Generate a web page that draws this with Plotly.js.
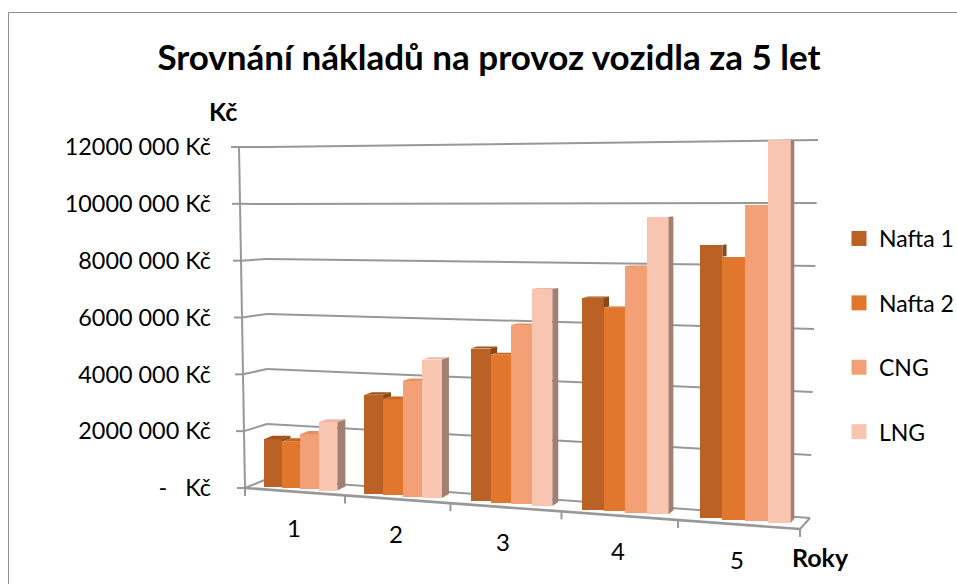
<!DOCTYPE html>
<html><head><meta charset="utf-8">
<script src="https://cdn.plot.ly/plotly-3.0.1.min.js"></script>
<style>html,body{margin:0;padding:0;background:#fff}</style></head>
<body><div id="chart" style="width:957px;height:584px"></div>
<script>
// ---- data (Kč) ----
const categories = ["1","2","3","4","5"];
const seriesNames = ["Nafta 1","Nafta 2","CNG","LNG"];
const nafta1 = [1650000,3370000,5080000,6860000,8620000];
const nafta2 = [1600000,3250000,4900000,6550000,8260000];
const cng    = [1900000,3900000,5900000,7900000,9900000];
const lng    = [2350000,4650000,7100000,9500000,11900000];
const yTicks = [0,2000000,4000000,6000000,8000000,10000000,12000000];
const yTickText = ["-\u00A0\u00A0\u00A0Kč","2000 000 Kč","4000 000 Kč","6000 000 Kč","8000 000 Kč","10000 000 Kč","12000 000 Kč"];
const frontColors = ["#BA6225","#E0772D","#F3A077","#F8C5B1"];
const sideColors  = ["#8A4814","#A8581F","#B07856","#A17F72"];
const topColors   = ["#A3531B","#C9651F","#E48F64","#EDB9A5"];

// ---- layout frame: x axis is in px units, y axis in Kč ----
const L=212,R=830,T=130,B=540, Y0=488, PXM=341/12; // px per million on the left front plane
const val=py=>(Y0-py)/PXM*1e6;
const M=v=>v/1e6;
const px=(x)=>(x-L)/(R-L), py=(y)=>(B-y)/(B-T);
const xF=t=>245+97.25*t+2.75*t*t;            // floor front edge x, t = slots from left
const edgeY=x=>488+0.0739*(x-245);           // floor front edge y
const frac=x=>(x-245)/555;
const scale=x=>28.5+frac(x)*3.8;             // px per million at a bar
const lean=x=>-0.3+0.7*frac(x);              // horizontal lean per million

const lineStyle={color:"#989898",width:2};
const shapes=[];
const seg=(x0,y0,x1,y1,w)=>shapes.push({type:"line",xref:"x",yref:"y",layer:"below",x0,y0:val(y0),x1,y1:val(y1),line:{color:lineStyle.color,width:w||lineStyle.width}});
// gridlines from the value axis
yTicks.forEach(v=>{
  const m=M(v), xa=245-m*0.5, ya=488-m*PXM;
  const yl=479-m*27.5-Math.max(0,m-10), xr=810+m*0.67, yr=518-m*31.5;
  seg(xa-8,ya,xa,ya); seg(xa,ya,267,yl); seg(267,yl,xr,yr);
});
seg(245,488,239,146);                // value axis
seg(245,488,800,529,2.6);            // floor front edge
seg(800,529,810,518);                // floor right edge
categories.concat("e").forEach((c,i)=>{const x=xF(i),y=edgeY(x);seg(x,y,x,y+8);});
seg(245,488,245,496);
// chart frame
shapes.push({type:"path",xref:"paper",yref:"paper",layer:"below",
  path:`M${px(8.5)},${py(590)} L${px(8.5)},${py(12.5)} L${px(960)},${py(12.5)}`,line:{color:"#8F8F8F",width:1}});

// ---- traces ----
const values=[nafta1,nafta2,cng,lng];
const slotLo=0.155, barW=0.184;
const geom=values.map((arr,s)=>arr.map((v,c)=>{
  const xl0=xF(c+slotLo+s*barW), xr0=xF(c+slotLo+(s+1)*barW);
  const shift=4-2*frac(xl0), xl=xl0+shift, xr=xr0+shift, xm=(xl+xr)/2;
  const bottom=edgeY(xm)-(3.5+1*frac(xm));
  const h=M(v)*scale(xm), top=bottom-h;
  const off=lean(xm)*M(v)/2;
  return {xc:xm+off,w:xr-xl,xl:xl+off,xr:xr+off,bottom,top,v};
}));
const traces=[];
values.forEach((arr,s)=>{
  traces.push({type:"bar",name:seriesNames[s],legendgroup:seriesNames[s],showlegend:false,
    x:geom[s].map(g=>g.xc),width:geom[s].map(g=>g.w),
    base:geom[s].map(g=>val(g.bottom)),y:geom[s].map(g=>val(g.top)-val(g.bottom)),
    customdata:arr,hovertemplate:"%{customdata} Kč<extra>"+seriesNames[s]+"</extra>",
    marker:{color:frontColors[s],line:{width:0}}});
});
categories.forEach((c,ci)=>{
  values.forEach((arr,s)=>{
    const g=geom[s][ci], n=s<3?geom[s+1][ci]:null;
    const dx=Math.max(3,8-(g.xr-338)/454*4.5);
    const dy=Math.max(0,4*(1-M(g.v)/10));
    const nextTaller=n&&n.top<=g.top;
    if(dy>0.3){
      const xs=nextTaller?[g.xl,g.xr,g.xr,g.xl+dx,g.xl]:[g.xl,g.xr,g.xr+dx,g.xl+dx,g.xl];
      const ys=[g.top,g.top,g.top-dy,g.top-dy,g.top];
      traces.push({type:"scatter",mode:"lines",x:xs,y:ys.map(val),fill:"toself",fillcolor:topColors[s],line:{width:0},showlegend:false,legendgroup:seriesNames[s],hoverinfo:"skip"});
    }
    if(!nextTaller){
      const yb=n?n.top:g.bottom, dyb=n?Math.max(0,4*(1-M(n.v)/10)):4;
      const xs=[g.xr,g.xr+dx,g.xr+dx,g.xr,g.xr];
      const ys=[g.top,g.top-dy,yb-dyb,yb,g.top];
      traces.push({type:"scatter",mode:"lines",x:xs,y:ys.map(val),fill:"toself",fillcolor:sideColors[s],line:{width:0},showlegend:false,legendgroup:seriesNames[s],hoverinfo:"skip"});
    }
  });
});
// legend entries
seriesNames.forEach((n,s)=>traces.push({type:"scatter",mode:"markers",name:n,legendgroup:n,x:[null],y:[null],
  marker:{symbol:"square",size:15,color:frontColors[s]}}));

const textFont={family:"Lato, Carlito, Calibri, sans-serif",color:"#000"};
const note=(t,x,y,size,bold)=>({text:bold?"<b>"+t+"</b>":t,xref:"paper",yref:"paper",x:px(x),y:py(y),xanchor:"center",yanchor:"middle",showarrow:false,font:{...textFont,size}});
const catPos=[[294,527],[396,533],[503,541],[618,550],[737,559]];
const annotations=categories.map((c,i)=>note(c,catPos[i][0],catPos[i][1],24));
annotations.push(note("Kč",223,111,25,true),note("Roky",820,557,25,true));

Plotly.newPlot("chart",traces,{
  width:957,height:584,paper_bgcolor:"#fff",plot_bgcolor:"rgba(0,0,0,0)",
  margin:{l:L,r:957-R,t:T,b:584-B,pad:0,autoexpand:false},
  title:{text:"<b>Srovnání nákladů na provoz vozidla za 5 let</b>",x:489/957,xanchor:"center",xref:"container",y:1-58/584,yanchor:"middle",yref:"container",font:{...textFont,size:35}},
  barmode:"overlay",bargap:0,
  xaxis:{range:[L,R],visible:false,fixedrange:true},
  yaxis:{range:[val(B),val(T)],tickvals:yTicks,ticktext:yTickText,showgrid:false,zeroline:false,showline:false,ticks:"",fixedrange:true,tickfont:{...textFont,size:23.4},ticklabelposition:"outside"},
  legend:{x:px(839),xanchor:"left",y:py(217),yanchor:"top",tracegroupgap:31.5,font:{...textFont,size:23},bgcolor:"rgba(0,0,0,0)",borderwidth:0},
  shapes,annotations,showlegend:true
},{displayModeBar:false,staticPlot:true});
</script></body></html>
